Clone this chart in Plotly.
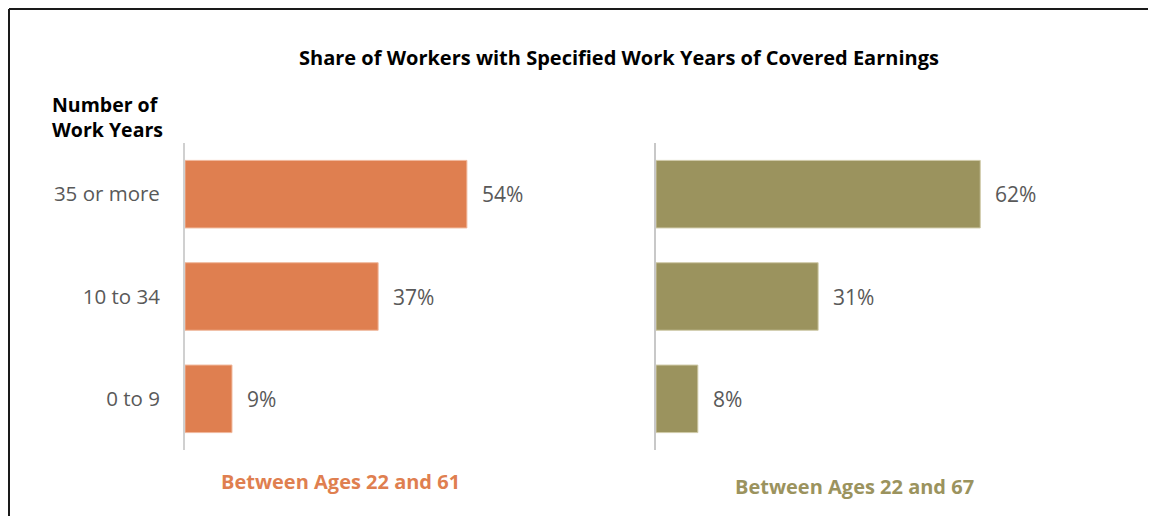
import plotly.graph_objects as go

# page body has an 8px margin, so the figure is drawn at (8, 8)
OFF = 8
W, H = 1156 - OFF, 516 - OFF

categories = ["0 to 9", "10 to 34", "35 or more"]
share_61 = [9, 37, 54]
share_67 = [8, 31, 62]
panel_titles = ["Between Ages 22 and 61", "Between Ages 22 and 67"]
title = "Share of Workers with Specified Work Years of Covered Earnings"
ytitle = "Number of<br>Work Years"

orange = "#DF7F50"
olive = "#9B935E"
gray_text = "#595959"
FONT = "Open Sans"

def px(x):
    return (x - OFF) / W

def py(y):
    return 1 - (y - OFF) / H

fig = go.Figure()
fig.add_trace(go.Bar(x=share_61, y=categories, orientation="h",
                     marker=dict(color=orange, line=dict(color="#F0B89C", width=1)),
                     width=0.66, xaxis="x", yaxis="y", hoverinfo="x+y", showlegend=False))
fig.add_trace(go.Bar(x=share_67, y=categories, orientation="h",
                     marker=dict(color=olive, line=dict(color="#CFCAA8", width=1)),
                     width=0.66, xaxis="x2", yaxis="y2", hoverinfo="x+y", showlegend=False))

annotations = []
for xa, ya, vals in (("x", "y", share_61), ("x2", "y2", share_67)):
    for c, v in zip(categories, vals):
        annotations.append(dict(x=v, y=c, xref=xa, yref=ya, text=f"{v}%", showarrow=False,
                                xanchor="left", xshift=13,
                                font=dict(family=FONT, size=21, color=gray_text)))

annotations += [
    dict(x=px(619), y=py(57), xref="paper", yref="paper", text=f"<b>{title}</b>", showarrow=False,
         xanchor="center", yanchor="middle", font=dict(family=FONT, size=20, color="#000000")),
    dict(x=px(50), y=py(117), xref="paper", yref="paper", text=f"<b>{ytitle}</b>", showarrow=False,
         xanchor="left", yanchor="middle", align="left",
         font=dict(family=FONT, size=19.5, color="#000000", lineposition="none")),
    dict(x=px(340), y=py(481), xref="paper", yref="paper", text=f"<b>{panel_titles[0]}</b>", showarrow=False,
         xanchor="center", yanchor="middle", font=dict(family=FONT, size=20, color=orange)),
    dict(x=px(854), y=py(486), xref="paper", yref="paper", text=f"<b>{panel_titles[1]}</b>", showarrow=False,
         xanchor="center", yanchor="middle", font=dict(family=FONT, size=20, color=olive)),
]

ydom = [py(450), py(143)]
fig.update_layout(
    width=W, height=H,
    margin=dict(l=0, r=0, t=0, b=0),
    paper_bgcolor="white", plot_bgcolor="white",
    xaxis=dict(domain=[px(185), px(185 + 5.22 * 70)], range=[0, 70], visible=False, fixedrange=True),
    xaxis2=dict(domain=[px(656), px(656 + 5.23 * 70)], range=[0, 70], visible=False, fixedrange=True),
    yaxis=dict(domain=ydom, range=[-0.5, 2.5], categoryorder="array", categoryarray=categories,
               showline=True, linecolor="#D0D0D0", linewidth=2, showgrid=False, zeroline=False,
               ticks="", ticklabelstandoff=19, tickfont=dict(family=FONT, size=20.5, color=gray_text)),
    yaxis2=dict(domain=ydom, range=[-0.5, 2.5], anchor="x2",
                categoryorder="array", categoryarray=categories,
                showline=True, linecolor="#C8C8C8", linewidth=2, showgrid=False, zeroline=False,
                showticklabels=False, ticks=""),
    annotations=annotations,
    shapes=[
        dict(type="line", xref="paper", yref="paper", x0=px(9), x1=px(9), y0=0, y1=py(9),
             line=dict(color="#1a1a1a", width=2)),
        dict(type="line", xref="paper", yref="paper", x0=px(9), x1=1, y0=py(9), y1=py(9),
             line=dict(color="#1a1a1a", width=2)),
    ],
)

fig.write_html("out.html")
